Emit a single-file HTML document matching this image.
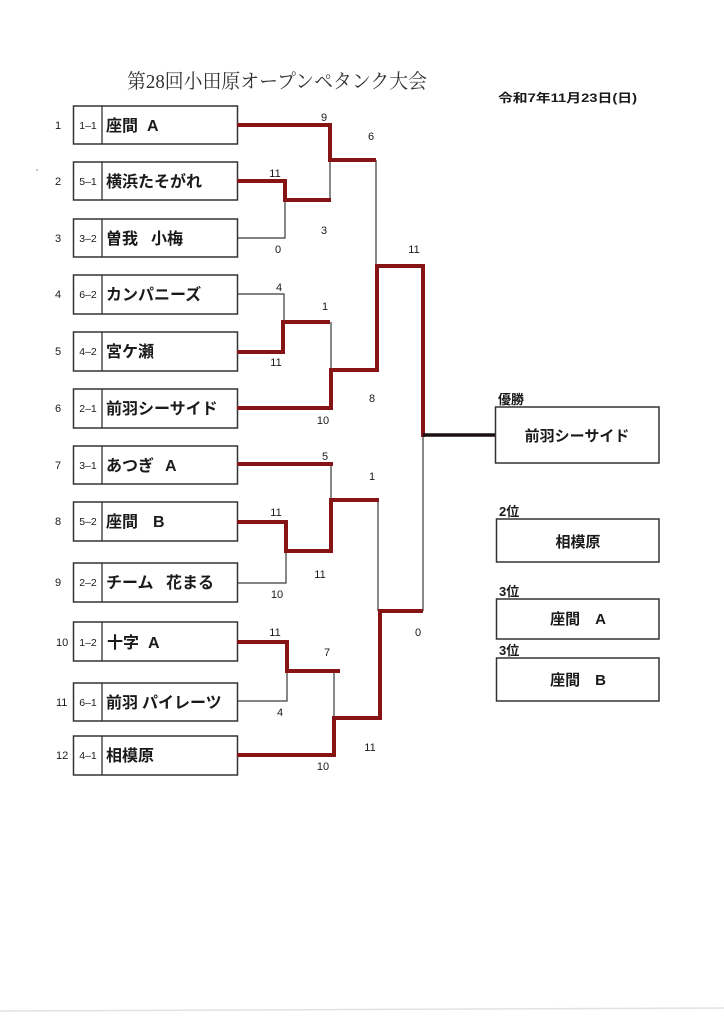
<!DOCTYPE html>
<html>
<head>
<meta charset="utf-8">
<style>
html,body{margin:0;padding:0;background:#fff;}
body{width:724px;height:1024px;overflow:hidden;}
svg{display:block;}
.t{font-family:"Liberation Sans","Noto Sans CJK JP",sans-serif;fill:#1a1a1a;}
.n{font-size:16px;font-weight:bold;}
.s{font-size:11px;}
.sd{font-size:10.5px;}
.r{fill:none;stroke:#861414;stroke-width:4;stroke-linejoin:miter;stroke-linecap:square;}
.k{fill:none;stroke:#3a3a3a;stroke-width:1.2;}
.bx{fill:#fff;stroke:#333;stroke-width:1.5;}
</style>
</head>
<body>
<svg width="724" height="1024" viewBox="0 0 724 1024" xmlns="http://www.w3.org/2000/svg">
<rect width="724" height="1024" fill="#fff"/>
<line x1="0" y1="1011" x2="724" y2="1008" stroke="#e2e2e2" stroke-width="1.5"/>
<circle cx="37" cy="170" r="0.9" fill="#999"/>

<!-- Title -->
<text x="127" y="88" font-family="'Liberation Serif','Noto Serif CJK SC',serif" font-size="20" fill="#333" textLength="300" lengthAdjust="spacingAndGlyphs">第28回小田原オープンペタンク大会</text>
<text x="498" y="102" class="t" font-size="12" font-weight="bold" textLength="139" lengthAdjust="spacingAndGlyphs">令和7年11月23日(日)</text>

<!-- team boxes -->
<g>
<rect class="bx" x="73.5" y="106" width="164" height="38"/>
<rect class="bx" x="73.5" y="162" width="164" height="38"/>
<rect class="bx" x="73.5" y="219" width="164" height="38"/>
<rect class="bx" x="73.5" y="275" width="164" height="39"/>
<rect class="bx" x="73.5" y="332" width="164" height="39"/>
<rect class="bx" x="73.5" y="389" width="164" height="39"/>
<rect class="bx" x="73.5" y="446" width="164" height="38"/>
<rect class="bx" x="73.5" y="502" width="164" height="39"/>
<rect class="bx" x="73.5" y="563" width="164" height="39"/>
<rect class="bx" x="73.5" y="622" width="164" height="39"/>
<rect class="bx" x="73.5" y="683" width="164" height="38"/>
<rect class="bx" x="73.5" y="736" width="164" height="39"/>
</g>
<g stroke="#333" stroke-width="1.3">
<line x1="102" y1="106" x2="102" y2="144"/>
<line x1="102" y1="162" x2="102" y2="200"/>
<line x1="102" y1="219" x2="102" y2="257"/>
<line x1="102" y1="275" x2="102" y2="314"/>
<line x1="102" y1="332" x2="102" y2="371"/>
<line x1="102" y1="389" x2="102" y2="428"/>
<line x1="102" y1="446" x2="102" y2="484"/>
<line x1="102" y1="502" x2="102" y2="541"/>
<line x1="102" y1="563" x2="102" y2="602"/>
<line x1="102" y1="622" x2="102" y2="661"/>
<line x1="102" y1="683" x2="102" y2="721"/>
<line x1="102" y1="736" x2="102" y2="775"/>
</g>

<!-- row numbers -->
<g class="t s">
<text x="55" y="129">1</text>
<text x="55" y="185">2</text>
<text x="55" y="242">3</text>
<text x="55" y="298">4</text>
<text x="55" y="355">5</text>
<text x="55" y="412">6</text>
<text x="55" y="469">7</text>
<text x="55" y="525">8</text>
<text x="55" y="586">9</text>
<text x="56" y="646">10</text>
<text x="56" y="706">11</text>
<text x="56" y="759">12</text>
</g>
<!-- seeds -->
<g class="t sd" text-anchor="middle">
<text x="88" y="129">1–1</text>
<text x="88" y="185">5–1</text>
<text x="88" y="242">3–2</text>
<text x="88" y="298">6–2</text>
<text x="88" y="355">4–2</text>
<text x="88" y="412">2–1</text>
<text x="88" y="469">3–1</text>
<text x="88" y="525">5–2</text>
<text x="88" y="586">2–2</text>
<text x="88" y="646">1–2</text>
<text x="88" y="706">6–1</text>
<text x="88" y="759">4–1</text>
</g>
<!-- names -->
<g class="t n">
<text x="106" y="131">座間<tspan x="147">A</tspan></text>
<text x="106" y="187">横浜たそがれ</text>
<text x="106" y="244">曽我<tspan x="151">小梅</tspan></text>
<text x="106" y="300">カンパニーズ</text>
<text x="106" y="357">宮ケ瀬</text>
<text x="106" y="414">前羽シーサイド</text>
<text x="106" y="471">あつぎ<tspan x="165">A</tspan></text>
<text x="106" y="527">座間<tspan x="153">B</tspan></text>
<text x="106" y="588">チーム<tspan x="166">花まる</tspan></text>
<text x="107" y="648">十字<tspan x="148">A</tspan></text>
<text x="106" y="708">前羽<tspan x="142">パイレーツ</tspan></text>
<text x="106" y="761">相模原</text>
</g>

<!-- thin connectors -->
<g class="k">
<polyline points="238,238 285,238 285,200"/>
<line x1="330" y1="160" x2="330" y2="200"/>
<line x1="376" y1="160" x2="376" y2="266"/>
<polyline points="238,294 284,294 284,322"/>
<line x1="331" y1="322" x2="331" y2="370"/>
<line x1="331" y1="464" x2="331" y2="500"/>
<polyline points="238,583 286,583 286,551"/>
<line x1="378" y1="500" x2="378" y2="611"/>
<line x1="423" y1="435" x2="423" y2="611"/>
<polyline points="238,701 287,701 287,671"/>
<line x1="334" y1="671" x2="334" y2="716"/>
</g>

<!-- red winning paths -->
<g class="r">
<polyline points="239,125 330,125 330,160 374,160"/>
<polyline points="239,181 285,181 285,200 329,200"/>
<polyline points="239,352 283,352 283,322 328,322"/>
<polyline points="239,408 331,408 331,370 377,370 377,266 423,266 423,435"/>
<polyline points="239,464 331,464"/>
<polyline points="239,522 286,522 286,551 331,551 331,500 377,500"/>
<polyline points="239,642 287,642 287,671 338,671"/>
<polyline points="239,755 334,755 334,718 380,718 380,611 421,611"/>
</g>
<line x1="423" y1="435" x2="495" y2="435" stroke="#1a1010" stroke-width="3.5"/>

<!-- scores -->
<g class="t s" text-anchor="middle">
<text x="324" y="121">9</text>
<text x="371" y="140">6</text>
<text x="275" y="177">11</text>
<text x="324" y="234">3</text>
<text x="278" y="253">0</text>
<text x="414" y="253">11</text>
<text x="279" y="291">4</text>
<text x="325" y="310">1</text>
<text x="276" y="366">11</text>
<text x="323" y="424">10</text>
<text x="372" y="402">8</text>
<text x="325" y="460">5</text>
<text x="372" y="480">1</text>
<text x="276" y="516">11</text>
<text x="320" y="578">11</text>
<text x="277" y="598">10</text>
<text x="418" y="636">0</text>
<text x="275" y="636">11</text>
<text x="327" y="656">7</text>
<text x="280" y="716">4</text>
<text x="370" y="751">11</text>
<text x="323" y="770">10</text>
</g>

<!-- result boxes -->
<rect class="bx" x="495.5" y="407" width="163.5" height="56"/>
<rect class="bx" x="496.5" y="519" width="162.5" height="43"/>
<rect class="bx" x="496.5" y="599" width="162.5" height="40"/>
<rect class="bx" x="496.5" y="658" width="162.5" height="43"/>
<g class="t" font-weight="bold" font-size="13">
<text x="498" y="404">優勝</text>
<text x="499" y="516">2位</text>
<text x="499" y="596">3位</text>
<text x="499" y="655">3位</text>
</g>
<g class="t" font-weight="bold" font-size="15" text-anchor="middle">
<text x="577" y="441">前羽シーサイド</text>
<text x="578" y="547">相模原</text>
<text x="578" y="624">座間　A</text>
<text x="578" y="685">座間　B</text>
</g>
</svg>
</body>
</html>
